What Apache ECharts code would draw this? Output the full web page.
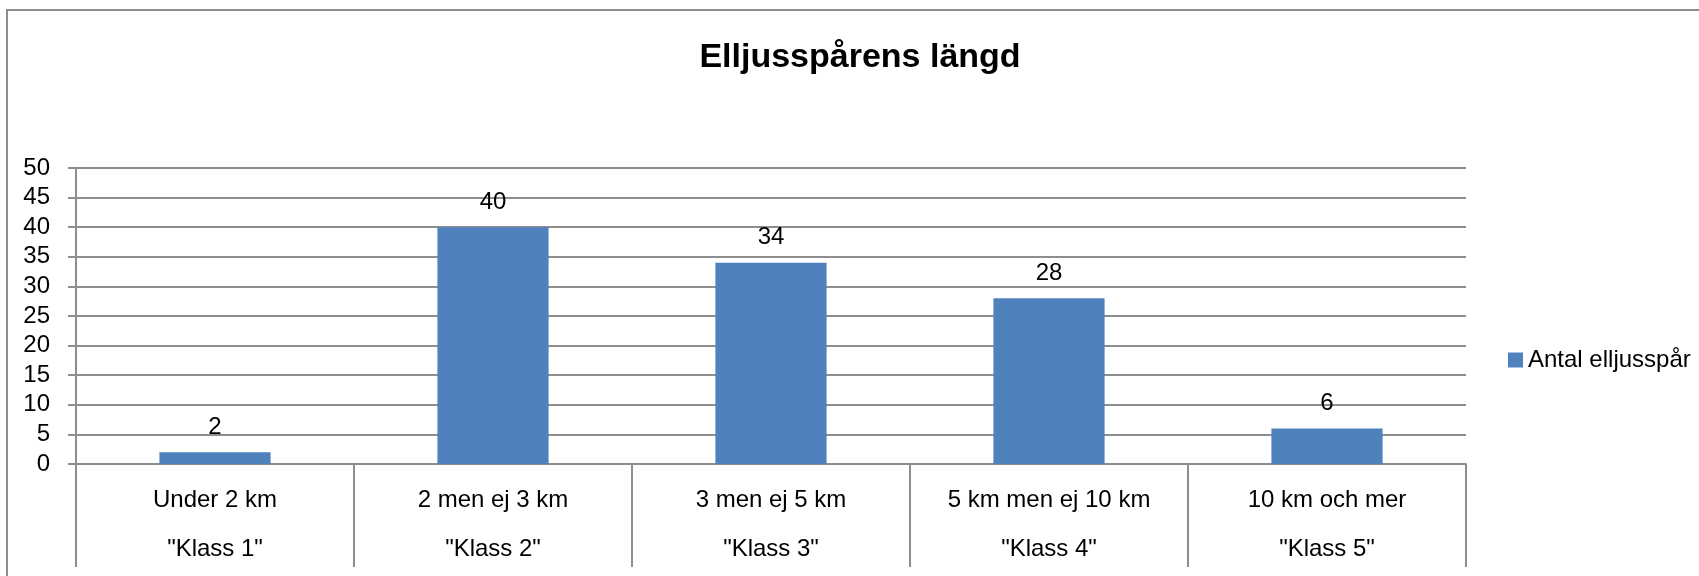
<!DOCTYPE html>
<html>
<head>
<meta charset="utf-8">
<script src="https://cdn.jsdelivr.net/npm/echarts@6/dist/echarts.min.js"></script>
<style>
html,body{margin:0;padding:0;background:#fff;}
#chart{width:1699px;height:576px;}
</style>
</head>
<body>
<div id="chart"></div>
<script>
const title = 'Elljusspårens längd';
const seriesName = 'Antal elljusspår';
const lengthLabels = ['Under 2 km', '2 men ej 3 km', '3 men ej 5 km', '5 km men ej 10 km', '10 km och mer'];
const classLabels = ['"Klass 1"', '"Klass 2"', '"Klass 3"', '"Klass 4"', '"Klass 5"'];
const values = [2, 40, 34, 28, 6];
const yTicks = [0, 5, 10, 15, 20, 25, 30, 35, 40, 45, 50];

const categories = lengthLabels.map((l, i) => l + '\n' + classLabels[i]);
const FONT = '"Liberation Sans", Arial, sans-serif';
const GRAY = '#8e8e8e';

const chart = echarts.init(document.getElementById('chart'), null, {renderer: 'canvas'});
chart.setOption({
  animation: false,
  backgroundColor: '#ffffff',
  textStyle: {fontFamily: FONT},
  title: {
    text: title,
    left: 860,
    textAlign: 'center',
    top: 41,
    padding: 0,
    textStyle: {fontFamily: FONT, fontSize: 34, fontWeight: 'bold', color: '#000'}
  },
  legend: {
    data: [seriesName],
    left: 1508,
    top: 348,
    padding: 0,
    itemWidth: 15,
    itemHeight: 15,
    icon: 'rect',
    textStyle: {fontFamily: FONT, fontSize: 24, color: '#000', padding: [0,0,0,0]}
  },
  graphic: [{
    type: 'rect',
    shape: {x: 7, y: 10, width: 1800, height: 700},
    style: {fill: 'none', stroke: GRAY, lineWidth: 2},
    silent: true,
    z: -1
  }],
  grid: {left: 76, right: 233, top: 168, bottom: 112, containLabel: false},
  xAxis: {
    type: 'category',
    data: categories,
    boundaryGap: true,
    axisLine: {show: true, lineStyle: {color: GRAY, width: 2}},
    axisTick: {show: true, interval: 0, length: 103, lineStyle: {color: GRAY, width: 2}},
    axisLabel: {
      interval: 0,
      margin: 12,
      fontFamily: FONT,
      fontSize: 24,
      color: '#000',
      lineHeight: 49
    }
  },
  yAxis: {
    type: 'value',
    min: yTicks[0],
    max: yTicks[yTicks.length - 1],
    interval: yTicks[1] - yTicks[0],
    axisLine: {show: true, lineStyle: {color: GRAY, width: 2}},
    axisTick: {show: true, length: 8, lineStyle: {color: GRAY, width: 2}},
    splitLine: {show: true, lineStyle: {color: GRAY, width: 2}},
    axisLabel: {margin: 26, fontFamily: FONT, fontSize: 24, color: '#000'}
  },
  series: [{
    name: seriesName,
    type: 'bar',
    data: values,
    barWidth: '40%',
    itemStyle: {color: '#4f81bd'},
    label: {
      show: true,
      position: 'top',
      distance: 13,
      fontFamily: FONT,
      fontSize: 24,
      color: '#000'
    }
  }]
});
</script>
</body>
</html>
